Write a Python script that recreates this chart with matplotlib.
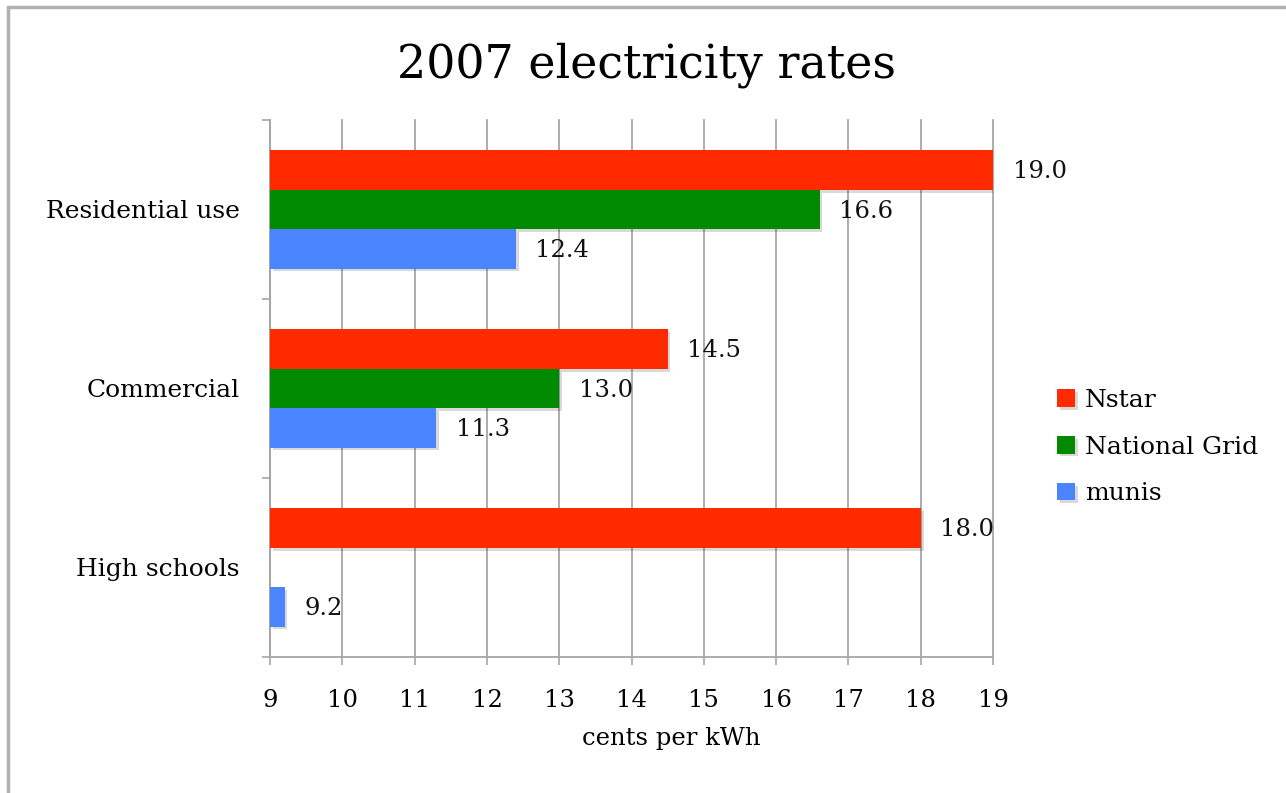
import matplotlib.pyplot as plt
import matplotlib.patheffects as pe
from matplotlib.patches import Rectangle
import numpy as np

# data
categories = ['Residential use', 'Commercial', 'High schools']
series_names = ['Nstar', 'National Grid', 'munis']
nstar = [19.0, 14.5, 18.0]
national_grid = [16.6, 13.0, np.nan]
munis = [12.4, 11.3, 9.2]
x_ticks = [9, 10, 11, 12, 13, 14, 15, 16, 17, 18, 19]

colors = ['#FF2A00', '#008A00', '#4A84FF']
grey = '#A6A6A6'

plt.rcParams['font.family'] = ['DejaVu Serif']

fig = plt.figure(figsize=(12.86, 7.93), dpi=100)
ax = fig.add_axes([0.2100, 0.1715, 0.5622, 0.6772])

# outer chart frame (left and top edges visible)
fig.patches.append(Rectangle((8/1286, -0.1), 1.2, 1 - 7/793 + 0.1, transform=fig.transFigure,
                             fill=False, ec='#B0B0B0', lw=2.5, zorder=0))

#bars
y = np.arange(len(categories))
h = 0.22
offsets = [-h, 0, h]
shadow = [pe.SimplePatchShadow(offset=(2, -2), shadow_rgbFace='#000000', alpha=0.15), pe.Normal()]
for vals, off, col, name in zip([nstar, national_grid, munis], offsets, colors, series_names):
    vals = np.array(vals, dtype=float)
    ok = ~np.isnan(vals)
    ax.barh(y[ok] + off, vals[ok] - 9, left=9, height=h, color=col, label=name,
            zorder=3, path_effects=shadow)
    for yy, v in zip(y[ok] + off, vals[ok]):
        ax.text(v + 0.27, yy + 0.01, '{:.1f}'.format(v), va='center', ha='left', fontsize=17.5, color='#111111')

ax.set_xlim(9, 19)
ax.set_ylim(2.5, -0.5)
ax.set_xticks(x_ticks)
ax.set_xticklabels([str(t) for t in x_ticks], fontsize=17.5)
ax.set_yticks(y)
ax.set_yticklabels(categories, fontsize=18)
ax.set_yticks([-0.5, 0.5, 1.5, 2.5], minor=True)
ax.tick_params(axis='y', which='major', length=0, pad=22)
ax.tick_params(axis='y', which='minor', length=6, width=1.2, color=grey, direction='out')
ax.tick_params(axis='x', length=6, width=1.2, color=grey, pad=17)

ax.grid(axis='x', color=grey, lw=1.3, zorder=0)
for gl in ax.get_xgridlines():
    gl.set_clip_on(False)
ax.set_axisbelow(True)
for s in ['top', 'right']:
    ax.spines[s].set_visible(False)
for s in ['left', 'bottom']:
    ax.spines[s].set_color(grey)
    ax.spines[s].set_linewidth(1.3)

ax.set_xlabel('cents per kWh', fontsize=17.5)
ax.xaxis.set_label_coords(0.555, -0.13)

fig.text(0.503, 0.918, '2007 electricity rates', ha='center', va='center', fontsize=33)

ax.legend(loc='center left', bbox_to_anchor=(1.058, 0.391), frameon=False, fontsize=18,
          handlelength=0.7, handleheight=0.7, handletextpad=0.4, labelspacing=0.95)

plt.savefig('out.png', dpi=100)
